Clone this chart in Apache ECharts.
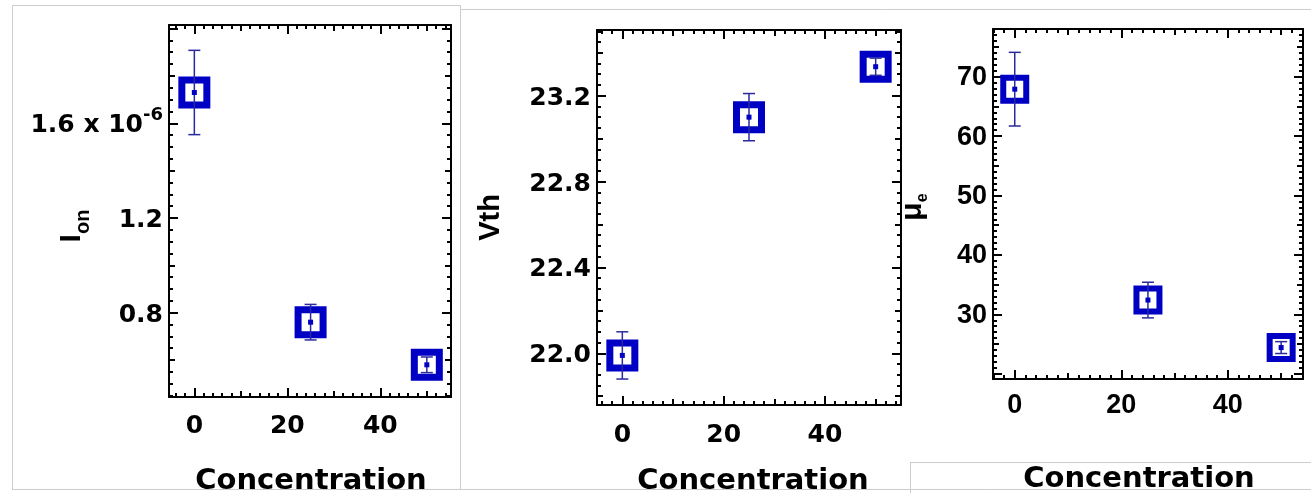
<!DOCTYPE html>
<html><head><meta charset="utf-8">
<script src="https://cdn.jsdelivr.net/npm/echarts@6/dist/echarts.min.js"></script>
<style>html,body{margin:0;padding:0;background:#fff}#c{width:1311px;height:493px}</style>
</head><body><div id="c"></div>
<script>
// ---- data ----
const concentration = [0, 25, 50];
const ionMean = [1.73, 0.76, 0.58];      // units of 1e-6
const ionErr  = [0.178, 0.075, 0.033];
const vthMean = [21.99, 23.10, 23.335];
const vthErr  = [0.11, 0.11, 0.04];
const muMean  = [67.9, 32.4, 24.4];
const muErr   = [6.2, 3.0, 1.0];
const xTickLabels   = [0, 20, 40];
const ionTickLabels = [0.8, 1.2, 1.6];
const vthTickLabels = [22.0, 22.4, 22.8, 23.2];
const muTickLabels  = [30, 40, 50, 60, 70];

const BLUE = '#0000c4', ERR = '#2a2a9e';
const ARIAL = '"Liberation Sans", Arial, sans-serif';
const DEJAVU = '"DejaVu Sans", sans-serif';

function steps(a, b, step) {
  const out = [];
  for (let k = Math.ceil(a / step - 1e-9); k * step <= b + 1e-9; k++) out.push(+(k * step).toFixed(4));
  return out;
}
function isMult(v, m) { const r = v / m; return Math.abs(r - Math.round(r)) < 1e-6; }

const panels = [
  { grid: { left: 169, top: 25, width: 282, height: 372 }, x: [-5.45, 55.2], y: [0.444, 2.015],
    yt: [0.4, 0.2, 0.05], labels: ionTickLabels, mean: ionMean, err: ionErr, sym: 25, bw: 7,
    fmt: v => Math.abs(v - 1.6) < 1e-6 ? '{n|1.6 x 10}{s|-6}' : v.toFixed(1),
    lfont: DEJAVU, lsize: 25, xMargin: 17, yPad: [5, 0, 0, 0],
    name: '{i|I}{s|on}', nameGap: 76, namePad: [0, 30, 0, 0],
    xName: 'Concentration', xGap: 70, xPad: [0, 0, 0, 2] },
  { grid: { left: 597, top: 30, width: 304, height: 375 }, x: [-5, 55], y: [21.759, 23.506],
    yt: [0.4, 0.2, 0.05], labels: vthTickLabels, mean: vthMean, err: vthErr, sym: 25, bw: 7,
    fmt: v => v.toFixed(1), lfont: DEJAVU, lsize: 25, xMargin: 18, yPad: [5, 0, 0, 0],
    name: 'Vth', nameGap: 92, namePad: [0, 0, 0, 0],
    xName: 'Concentration', xGap: 62, xPad: [0, 0, 0, 8] },
  { grid: { left: 993, top: 29, width: 310, height: 350 }, x: [-4.08, 54.1], y: [19.11, 78.03],
    yt: [10, 5, 1], labels: muTickLabels, mean: muMean, err: muErr, sym: 23, bw: 6,
    fmt: v => String(v), lfont: ARIAL, lsize: 27, xMargin: 13, yPad: [2, 0, 0, 0],
    name: '{m|μ}{e|e}', nameGap: 62, namePad: [0, 6, 0, 0],
    xName: 'Concentration', xGap: 86, xPad: [0, 18, 0, 0] }
];

const grids = [], xAxes = [], yAxes = [], series = [];
const tickLen = [9, 6, 4];

panels.forEach((p, gi) => {
  grids.push(Object.assign({ containLabel: false, outerBoundsMode: 'none' }, p.grid));
  const xLevels = [
    steps(p.x[0], p.x[1], 20),
    steps(p.x[0], p.x[1], 10).filter(v => !isMult(v, 20)),
    steps(p.x[0], p.x[1], 2).filter(v => !isMult(v, 10))
  ];
  const yLevels = [
    steps(p.y[0], p.y[1], p.yt[0]),
    steps(p.y[0], p.y[1], p.yt[1]).filter(v => !isMult(v, p.yt[0])),
    steps(p.y[0], p.y[1], p.yt[2]).filter(v => !isMult(v, p.yt[1]))
  ];
  const mainX = xAxes.length, mainY = yAxes.length;
  ['bottom', 'top'].forEach(pos => {
    xLevels.forEach((vals, li) => {
      const main = pos === 'bottom' && li === 0;
      xAxes.push({
        type: 'value', gridIndex: gi, position: pos, min: p.x[0], max: p.x[1],
        splitLine: { show: false }, nameMoveOverlap: false,
        axisLine: { show: li === 0, onZero: false, lineStyle: { color: '#000', width: 2 } },
        axisTick: { show: true, inside: true, length: tickLen[li], customValues: vals, lineStyle: { color: '#000', width: 2 } },
        axisLabel: main ? { show: true, customValues: xTickLabels, margin: p.xMargin, color: '#000',
          fontSize: p.lsize, fontWeight: 'bold', fontFamily: p.lfont } : { show: false },
        name: main ? p.xName : '', nameLocation: 'middle', nameGap: p.xGap,
        nameTextStyle: { fontFamily: DEJAVU, fontWeight: 'bold', fontSize: 29, color: '#000', padding: p.xPad }
      });
    });
  });
  ['left', 'right'].forEach(pos => {
    yLevels.forEach((vals, li) => {
      const main = pos === 'left' && li === 0;
      yAxes.push({
        type: 'value', gridIndex: gi, position: pos, min: p.y[0], max: p.y[1],
        splitLine: { show: false }, nameMoveOverlap: false,
        axisLine: { show: li === 0, onZero: false, lineStyle: { color: '#000', width: 2 } },
        axisTick: { show: true, inside: true, length: tickLen[li], customValues: vals, lineStyle: { color: '#000', width: 2 } },
        axisLabel: main ? { show: true, customValues: p.labels, margin: 6, color: '#000', padding: p.yPad,
          fontSize: p.lsize, fontWeight: 'bold', fontFamily: p.lfont, formatter: p.fmt,
          rich: {
            n: { fontSize: p.lsize, fontWeight: 'bold', fontFamily: p.lfont, color: '#000', lineHeight: 38 },
            s: { fontSize: 18, fontWeight: 'bold', fontFamily: p.lfont, color: '#000', verticalAlign: 'top', lineHeight: 18 }
          } } : { show: false },
        name: main ? p.name : '', nameLocation: 'middle', nameRotate: 90, nameGap: p.nameGap,
        nameTextStyle: {
          fontFamily: ARIAL, fontWeight: 'bold', fontSize: 29, color: '#000', padding: p.namePad,
          rich: {
            i: { fontFamily: ARIAL, fontWeight: 'bold', fontSize: 30, color: '#000', lineHeight: 42 },
            s: { fontFamily: ARIAL, fontWeight: 'bold', fontSize: 20, color: '#000', lineHeight: 20, verticalAlign: 'bottom' },
            m: { fontFamily: ARIAL, fontWeight: 'bold', fontSize: 30, color: '#000', lineHeight: 36 },
            e: { fontFamily: ARIAL, fontWeight: 'bold', fontSize: 16, color: '#000', lineHeight: 16, verticalAlign: 'bottom' }
          }
        }
      });
    });
  });
  const pts = concentration.map((c, i) => [c, p.mean[i], p.err[i]]);
  series.push({
    type: 'scatter', xAxisIndex: mainX, yAxisIndex: mainY, data: pts, symbol: 'rect',
    symbolSize: p.sym, itemStyle: { color: '#fff', borderColor: BLUE, borderWidth: p.bw, opacity: 1 }, z: 2, silent: true
  });
  series.push({
    type: 'custom', xAxisIndex: mainX, yAxisIndex: mainY, data: pts, z: 3, silent: true,
    renderItem: (params, api) => {
      const x = api.value(0), m = api.value(1), e = api.value(2);
      const top = api.coord([x, m + e]), bot = api.coord([x, m - e]);
      const style = { stroke: ERR, lineWidth: 1.5 };
      const h = 6;
      return { type: 'group', children: [
        { type: 'line', shape: { x1: top[0], y1: top[1], x2: bot[0], y2: bot[1] }, style },
        { type: 'line', shape: { x1: top[0] - h, y1: top[1], x2: top[0] + h, y2: top[1] }, style },
        { type: 'line', shape: { x1: bot[0] - h, y1: bot[1], x2: bot[0] + h, y2: bot[1] }, style }
      ] };
    }
  });
  series.push({
    type: 'scatter', xAxisIndex: mainX, yAxisIndex: mainY, data: pts, symbol: 'rect',
    symbolSize: 5, itemStyle: { color: BLUE, opacity: 1 }, z: 4, silent: true
  });
});

const G = '#cdcdcd';
const line = (x1, y1, x2, y2) => ({ type: 'line', z: 100, silent: true,
  shape: { x1, y1, x2, y2 }, style: { stroke: G, lineWidth: 1 } });

const chart = echarts.init(document.getElementById('c'), null, { renderer: 'canvas' });
chart.setOption({
  animation: false,
  backgroundColor: '#fff',
  grid: grids, xAxis: xAxes, yAxis: yAxes, series,
  graphic: [
    line(12, 5.5, 460, 5.5), line(12.5, 5, 12.5, 489), line(460.5, 5, 460.5, 489),
    line(460, 9.5, 1311, 9.5), line(12, 489.5, 1311, 489.5),
    line(910, 462.5, 1311, 462.5), line(910.5, 462, 910.5, 493)
  ]
});
</script></body></html>
